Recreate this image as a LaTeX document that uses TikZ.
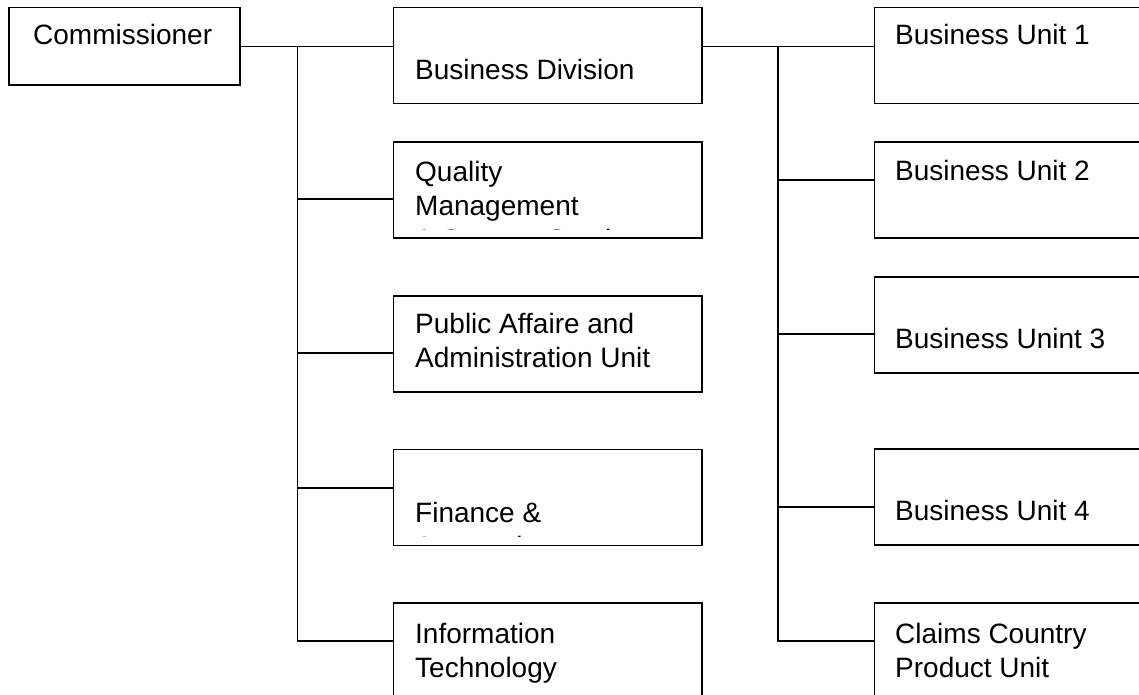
\documentclass[tikz,border=0pt]{standalone}
\usepackage{fontspec}
\setmainfont{Liberation Sans}
\usetikzlibrary{calc}

\begin{document}
\begin{tikzpicture}[x=1pt,y=-1pt,
  unit node/.style={rectangle,draw,line width=1.3pt,inner sep=0pt,minimum width=308.5pt,minimum height=96pt},
  text node/.style={anchor=base west,inner sep=0pt,align=left,font=\fontsize{28}{34}\selectfont},
  link/.style={line width=1.2pt}]
  \useasboundingbox (0,0) rectangle (1139,695);
  \clip (0,0) rectangle (1139,695);

  % boxes
  \node[unit node,minimum width=231pt,minimum height=77.5pt] (comm) at (124.5,46.25) {};
  \node[unit node] (bd) at (547.75,55.75) {};
  \node[unit node] (qm) at (547.75,190) {};
  \node[unit node] (pa) at (547.75,344) {};
  \node[unit node] (fa) at (547.75,497.5) {};
  \node[unit node] (it) at (547.75,651) {};
  \node[unit node] (bu1) at (1028.5,55.5) {};
  \node[unit node] (bu2) at (1028.5,190) {};
  \node[unit node] (bu3) at (1028.5,325) {};
  \node[unit node] (bu4) at (1028.5,497) {};
  \node[unit node] (cc) at (1028.5,651) {};

  % labels (multi-line ones sit on their last baseline)
  \node[text node] (t0) at (33,45) {Commissioner};
  \node[text node] (t1) at (415,80) {Business Division};
  \begin{scope}
    \clip (qm.north west) rectangle ($(qm.south east)+(0,-9)$);
    \node[text node] (t2) at (415,249) {Quality\\Management\\\& Support Services};
  \end{scope}
  \node[text node] (t3) at (415,367) {Public Affaire and\\Administration Unit};
  \begin{scope}
    \clip (fa.north west) rectangle ($(fa.south east)+(0,-10)$);
    \node[text node] (t4) at (415,556) {Finance \&\\Accounting};
  \end{scope}
  \node[text node] (t5) at (415,677) {Information\\Technology};
  \node[text node] (t6) at (895,45) {Business Unit 1};
  \node[text node] (t7) at (895,181) {Business Unit 2};
  \node[text node] (t8) at (895,348) {Business Unint 3};
  \node[text node] (t9) at (895,520) {Business Unit 4};
  \node[text node] (t10) at (895,677) {Claims Country\\Product Unit};

  % connectors
  \coordinate (lsplit) at (297.5,46.25);
  \coordinate (rsplit) at (778,46.25);
  \draw[link] (comm.east) -- (comm.east -| bd.west);
  \draw[link] (lsplit) |- ($(it.west)+(0,-10)$);
  \draw[link] (lsplit |- qm.west) ++(0,9) -- ($(qm.west)+(0,9)$);
  \draw[link] (lsplit |- pa.west) ++(0,9) -- ($(pa.west)+(0,9)$);
  \draw[link] (lsplit |- fa.west) ++(0,-9.5) -- ($(fa.west)+(0,-9.5)$);
  \draw[link] (bd.east |- rsplit) -- (bu1.west |- rsplit);
  \draw[link] (rsplit) |- ($(cc.west)+(0,-10)$);
  \draw[link] (rsplit |- bu2.west) ++(0,-10) -- ($(bu2.west)+(0,-10)$);
  \draw[link] (rsplit |- bu3.west) ++(0,9) -- ($(bu3.west)+(0,9)$);
  \draw[link] (rsplit |- bu4.west) ++(0,10) -- ($(bu4.west)+(0,10)$);
\end{tikzpicture}
\end{document}
